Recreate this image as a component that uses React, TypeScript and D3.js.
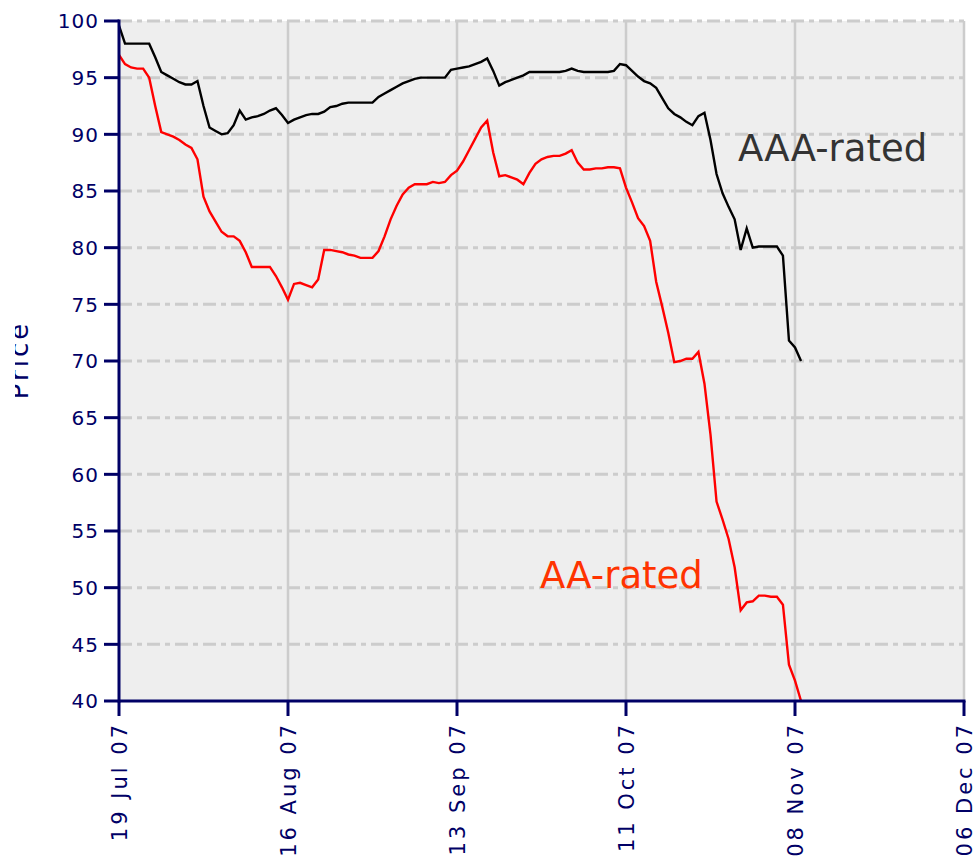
import React from 'react'
import * as d3 from 'd3'

// daily closes, starting 19 Jul 2007
const startDate = new Date(2007, 6, 19)

const aaaPrices = [
  99.6, 98.0, 98.0, 98.0, 98.0, 98.0, 96.8, 95.5, 95.2, 94.9,
  94.6, 94.4, 94.4, 94.7, 92.5, 90.6, 90.3, 90.0, 90.1, 90.8,
  92.1, 91.3, 91.5, 91.6, 91.8, 92.1, 92.3, 91.7, 91.0, 91.3,
  91.5, 91.7, 91.8, 91.8, 92.0, 92.4, 92.5, 92.7, 92.8, 92.8,
  92.8, 92.8, 92.8, 93.3, 93.6, 93.9, 94.2, 94.5, 94.7, 94.9,
  95.0, 95.0, 95.0, 95.0, 95.0, 95.7, 95.8, 95.9, 96.0, 96.2,
  96.4, 96.7, 95.6, 94.3, 94.6, 94.8, 95.0, 95.2, 95.5, 95.5,
  95.5, 95.5, 95.5, 95.5, 95.6, 95.8, 95.6, 95.5, 95.5, 95.5,
  95.5, 95.5, 95.6, 96.2, 96.1, 95.6, 95.1, 94.7, 94.5, 94.1,
  93.2, 92.3, 91.8, 91.5, 91.1, 90.8, 91.6, 91.9, 89.5, 86.5,
  84.8, 83.6, 82.5, 79.8, 81.7, 80.0, 80.1, 80.1, 80.1, 80.1,
  79.3, 71.8, 71.2, 70.0
]

const aaPrices = [
  97.0, 96.2, 95.9, 95.8, 95.8, 95.0, 92.5, 90.2, 90.0, 89.8,
  89.5, 89.1, 88.8, 87.8, 84.5, 83.2, 82.3, 81.4, 81.0, 81.0,
  80.6, 79.6, 78.3, 78.3, 78.3, 78.3, 77.5, 76.5, 75.4, 76.8,
  76.9, 76.7, 76.5, 77.2, 79.8, 79.8, 79.7, 79.6, 79.4, 79.3,
  79.1, 79.1, 79.1, 79.7, 81.0, 82.5, 83.7, 84.7, 85.3, 85.6,
  85.6, 85.6, 85.8, 85.7, 85.8, 86.4, 86.8, 87.6, 88.6, 89.6,
  90.6, 91.2, 88.4, 86.3, 86.4, 86.2, 86.0, 85.6, 86.6, 87.4,
  87.8, 88.0, 88.1, 88.1, 88.3, 88.6, 87.5, 86.9, 86.9, 87.0,
  87.0, 87.1, 87.1, 87.0, 85.3, 84.0, 82.6, 81.9, 80.6, 77.0,
  74.8, 72.5, 69.9, 70.0, 70.2, 70.2, 70.8, 68.0, 63.5, 57.6,
  56.0, 54.3, 51.8, 48.0, 48.7, 48.8, 49.3, 49.3, 49.2, 49.2,
  48.5, 43.2, 41.8, 40.0
]

const xTickDates = ['2007-07-19', '2007-08-16', '2007-09-13', '2007-10-11', '2007-11-08', '2007-12-06']
const yTicks = [40, 45, 50, 55, 60, 65, 70, 75, 80, 85, 90, 95, 100]

const navy = '#000066'
const grid = '#cccccc'

const W = 973, H = 856
const left = 119, right = 964, top = 21, bottom = 701

const parse = d3.timeParse('%Y-%m-%d')
const fmt = d3.timeFormat('%d %b %y')

export default function App() {
  const x = d3.scaleTime()
    .domain([parse(xTickDates[0])!, parse(xTickDates[xTickDates.length - 1])!])
    .range([left, right])
  const y = d3.scaleLinear().domain([40, 100]).range([bottom, top])

  const line = d3.line<number>()
    .x((_, i) => x(d3.timeDay.offset(startDate, i)))
    .y(d => y(d))

  const xTicks = xTickDates.map(s => parse(s)!)

  return (
    <svg width={W} height={H} style={{ position: 'absolute', left: 0, top: 0 }}
      fontFamily="DejaVu Sans">
      <defs>
        <clipPath id="lblclip">
          <rect x={15} y={0} width={100} height={H} />
        </clipPath>
      </defs>
      <rect x={left} y={top} width={right - left} height={bottom - top} fill="#eeeeee" />

      {/* grid */}
      {yTicks.filter(t => t > 40).map(t => (
        <line key={'h' + t} x1={left} x2={right} y1={y(t)} y2={y(t)}
          stroke={grid} strokeWidth={3} strokeDasharray="13,5,5,5" />
      ))}
      {xTicks.slice(1).map((d, i) => (
        <line key={'v' + i} x1={x(d)} x2={x(d)} y1={top} y2={bottom}
          stroke={grid} strokeWidth={2.5} />
      ))}

      {/* series */}
      <path d={line(aaaPrices)!} fill="none" stroke="#000000" strokeWidth={2.4} />
      <path d={line(aaPrices)!} fill="none" stroke="#ff0000" strokeWidth={2.4} />

      {/* axes */}
      <line x1={left} x2={left} y1={top - 1.5} y2={bottom + 1.5} stroke={navy} strokeWidth={3} />
      <line x1={left} x2={right + 1.5} y1={bottom} y2={bottom} stroke={navy} strokeWidth={3} />
      {yTicks.map(t => (
        <g key={'yt' + t}>
          <line x1={left - 15} x2={left} y1={y(t)} y2={y(t)} stroke={navy} strokeWidth={3} />
          <text x={99} y={y(t)} dy="0.36em" textAnchor="end" fontSize={20} letterSpacing={1}
            fill={navy}>{t}</text>
        </g>
      ))}
      {xTicks.map((d, i) => (
        <g key={'xt' + i}>
          <line x1={x(d)} x2={x(d)} y1={bottom} y2={bottom + 15} stroke={navy} strokeWidth={3} />
          <text transform={`translate(${x(d) + 7.5},722) rotate(-90)`} textAnchor="end"
            fontSize={21} letterSpacing={3} fill={navy}>{fmt(d)}</text>
        </g>
      ))}

      <g clipPath="url(#lblclip)">
        <text transform="translate(28,360) rotate(-90)" textAnchor="middle" fontSize={26}
          letterSpacing={3} fill={navy}>Price</text>
      </g>

      <text x={738} y={161} fontSize={37} fill="#333333">AAA-rated</text>
      <text x={540} y={588} fontSize={37} fill="#ff3300">AA-rated</text>
    </svg>
  )
}
